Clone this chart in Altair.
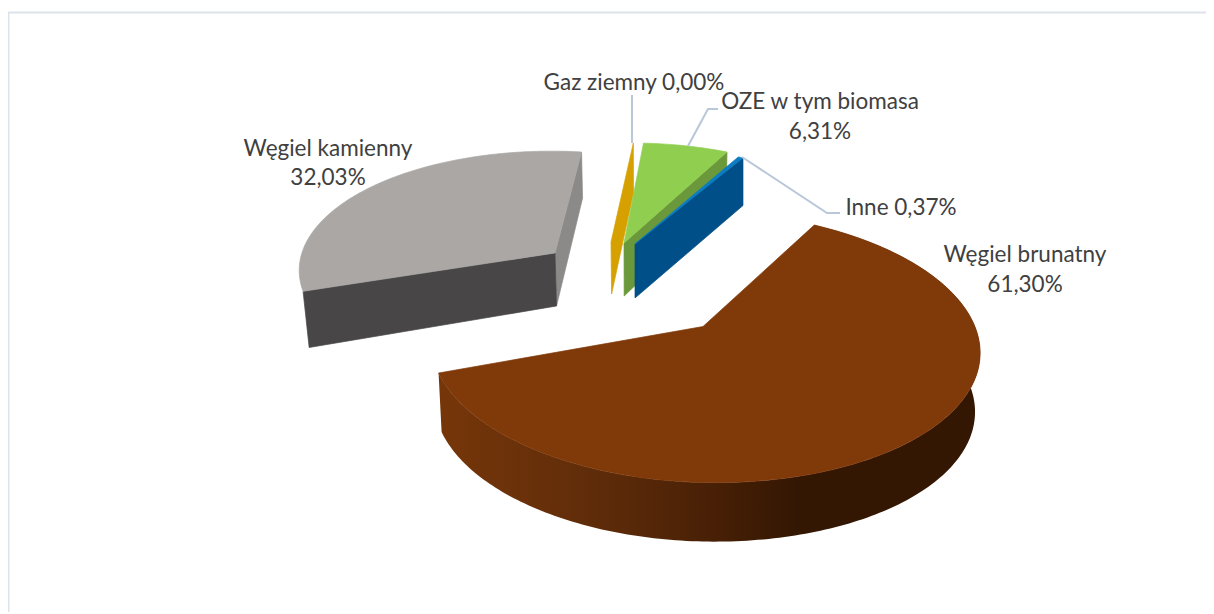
import math
import altair as alt
import pandas as pd

# Values
categories = ["Węgiel brunatny", "Węgiel kamienny", "Gaz ziemny", "OZE w tym biomasa", "Inne"]
values = [61.30, 32.03, 0.00, 6.31, 0.37]
first_angle = 27.4

# View of each exploded slice: apex, radii, perspective, depth
views = {
    "Węgiel brunatny": dict(px=703, py=326.5, rx=274, ry=132.6, k=.15, vx=703, t=6, d=59, p=0, vb=640, c=.015, lx=.982),
    "Węgiel kamienny": dict(px=555, py=253, rx=250, ry=116.8, k=.15, vx=660, t=8, d=53, p=1, vb=640, c=.018, lx=1),
    "Gaz ziemny": dict(px=611, py=242, rx=250, ry=114, k=.15, vx=684, t=0, d=52, p=.3, vb=640, c=.02, lx=1),
    "OZE w tym biomasa": dict(px=624, py=243, rx=250, ry=115, k=.15, vx=675, t=0, d=53, p=1, vb=640, c=.01, lx=1),
    "Inne": dict(px=635, py=244, rx=254, ry=110, k=.15, vx=675, t=0, d=54, p=1, vb=640, c=0, lx=1),
}
top_colors = {"Węgiel brunatny": "#803a0a", "Węgiel kamienny": "#aaa7a5", "Gaz ziemny": "#d6a100",
              "OZE w tym biomasa": "#90ce50", "Inne": "#0a7cc4"}
wall_colors = {"Gaz ziemny": "#d6a100", "OZE w tym biomasa": "#6a983b", "Inne": "#004f88"}
grey_front, grey_side = "#484646", "#8c8a88"
shade_offsets = [0.0, 0.22, 0.39, 0.52, 0.66, 1.0]
shade_colors = ["#763609", "#652f0a", "#552708", "#461f05", "#341703", "#341703"]

label_texts = [
    ("Węgiel kamienny", 328, 149), ("32,03%", 328, 178),
    ("Gaz ziemny  0,00%", 634, 83),
    ("OZE w tym biomasa", 820, 102), ("6,31%", 820, 132),
    ("Inne  0,37%", 901, 208),
    ("Węgiel brunatny", 1025, 255), ("61,30%", 1025, 285),
]
leaders = [
    [(632, 95), (632, 143)],
    [(718, 109), (708, 109), (688, 146)],
    [(742, 157), (827, 213), (840, 213)],
]
frame = [(8.5, 612), (8.5, 12.5), (1206, 12.5)]


def top_pt(v, a):
    r = math.radians(a)
    X, Y = math.sin(r), -math.cos(r)
    s = 1 / (1 - v["k"] * Y)
    xx = X * v["lx"] if X < 0 else X
    return v["vx"] + (v["px"] - v["vx"] + v["rx"] * xx) * s, v["py"] + (v["ry"] * Y + v["t"] * X) * s, s


def bot_pt(v, a):
    x, y, s = top_pt(v, a)
    return v["vb"] + (x - v["vb"]) * (1 - v["c"]), y + v["d"] * s ** v["p"]


def apex_bot(v):
    return v["vb"] + (v["px"] - v["vb"]) * (1 - v["c"]), v["py"] + v["d"]


rows = []
pid = [0]


def poly(pts, color, target=None):
    target = rows if target is None else target
    pid[0] += 1
    pts = list(pts) + [pts[0]]
    for i, (x, y) in enumerate(pts):
        target.append(dict(id=pid[0], i=i, x=x, y=y, color=color))


def radial_wall(v, a, color):
    x, y, _ = top_pt(v, a)
    poly([(v["px"], v["py"]), (x, y), bot_pt(v, a), apex_bot(v)], color)


def sector(v, a0, a1, color, target=None):
    n = max(2, int(a1 - a0) + 1)
    pts = [(v["px"], v["py"])]
    for j in range(n + 1):
        x, y, _ = top_pt(v, a0 + (a1 - a0) * j / n)
        pts.append((x, y))
    poly(pts, color, target)


# start/end angle of every slice, clockwise from 12 o'clock
spans = {}
a = first_angle
for name, val in zip(categories, values):
    spans[name] = (a, a + val * 3.6)
    a += val * 3.6

# grey slice
v = views["Węgiel kamienny"]
a0, a1 = spans["Węgiel kamienny"]
radial_wall(v, a1, grey_side)
radial_wall(v, a0, grey_front)
sector(v, a0, a1, top_colors["Węgiel kamienny"])
# thin slices
for name in ["Gaz ziemny", "OZE w tym biomasa", "Inne"]:
    v = views[name]
    a0, a1 = spans[name]
    radial_wall(v, a1, wall_colors[name])
    if a1 > a0:
        sector(v, a0, a1, top_colors[name])
# brown slice
v = views["Węgiel brunatny"]
a0, a1 = spans["Węgiel brunatny"]
n = int(a1 - a0)
angles = [a0 + (a1 - a0) * j / n for j in range(n + 1)]
wall_rows = []
poly([top_pt(v, b)[:2] for b in angles] + [bot_pt(v, b) for b in reversed(angles)], "wall", wall_rows)
brown_rows = []
sector(v, a0, a1, top_colors["Węgiel brunatny"], brown_rows)

x_scale = alt.Scale(domain=[8, 1206], nice=False, zero=False)
y_scale = alt.Scale(domain=[612, 8], nice=False, zero=False)
X = lambda: alt.X("x:Q", scale=x_scale, axis=None)
Y = lambda: alt.Y("y:Q", scale=y_scale, axis=None)

shapes = alt.Chart(pd.DataFrame(rows)).mark_line(strokeWidth=0.7, strokeJoin="round").encode(
    x=X(), y=Y(), detail="id:N", order="i:Q",
    fill=alt.Fill("color:N", scale=None), stroke=alt.Stroke("color:N", scale=None),
)

gradient = alt.Gradient(
    gradient="linear", x1=0, x2=1, y1=0, y2=0,
    stops=[alt.GradientStop(offset=o, color=c) for o, c in zip(shade_offsets, shade_colors)],
)
brown_wall = alt.Chart(pd.DataFrame(wall_rows)).mark_line(fill=gradient, strokeWidth=0, strokeOpacity=0).encode(
    x=X(), y=Y(), order="i:Q")
brown_top = alt.Chart(pd.DataFrame(brown_rows)).mark_line(
    fill=top_colors["Węgiel brunatny"], stroke=top_colors["Węgiel brunatny"], strokeWidth=0.7).encode(
    x=X(), y=Y(), order="i:Q")

leader_df = pd.DataFrame([dict(id=k, i=i, x=x, y=y) for k, l in enumerate(leaders) for i, (x, y) in enumerate(l)])
leader_marks = alt.Chart(leader_df).mark_line(color="#b9c7d9", strokeWidth=2).encode(
    x=X(), y=Y(), detail="id:N", order="i:Q")

frame_df = pd.DataFrame([dict(i=i, x=x, y=y) for i, (x, y) in enumerate(frame)])
frame_mark = alt.Chart(frame_df).mark_line(color="#dde3ea", strokeWidth=2).encode(x=X(), y=Y(), order="i:Q")

text_df = pd.DataFrame(label_texts, columns=["t", "x", "y"])
text_marks = alt.Chart(text_df).mark_text(font="Lato", fontSize=22.5, color="#404040", align="center", baseline="middle").encode(
    x=X(), y=Y(), text="t:N")

chart = alt.layer(frame_mark, shapes, brown_wall, brown_top, leader_marks, text_marks).properties(
    width=1198, height=604, padding=0, autosize=alt.AutoSizeParams(type="none"), background="white"
).configure_view(stroke=None)

chart.save("out.html", embed_options={"renderer": "svg", "actions": False})
